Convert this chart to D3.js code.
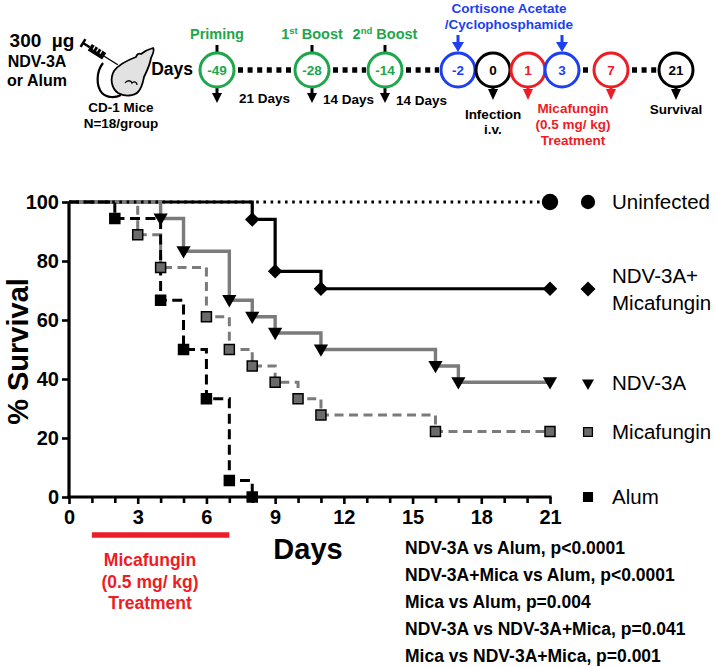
<!DOCTYPE html>
<html>
<head>
<meta charset="utf-8">
<script src="https://cdn.jsdelivr.net/npm/d3@7"></script>
<style>
  body { margin: 0; background: #fff; }
  svg text { font-family: "Liberation Sans", Arial, sans-serif; }
</style>
</head>
<body>
<div id="container"></div>
<script>
const width = 716
const height = 667

// Kaplan-Meier curves, % survival
const uninfDays = [0, 21]
const uninfSurv = [100, 100]
const ndvMicaDays = [0, 8, 9, 11, 21]
const ndvMicaSurv = [100, 94.1, 76.5, 70.6, 70.6]
const ndvDays = [0, 4, 5, 7, 8, 9, 11, 16, 17, 21]
const ndvSurv = [100, 94.4, 83.3, 66.7, 61.1, 55.6, 50, 44.4, 38.9, 38.9]
const micaDays = [0, 3, 4, 6, 7, 8, 9, 10, 11, 16, 21]
const micaSurv = [100, 88.9, 77.8, 61.1, 50, 44.4, 38.9, 33.3, 27.8, 22.2, 22.2]
const alumDays = [0, 2, 4, 5, 6, 7, 8]
const alumSurv = [100, 94.4, 66.7, 50, 33.3, 5.6, 0]

const xTicks = [0, 3, 6, 9, 12, 15, 18, 21]
const yTicks = [0, 20, 40, 60, 80, 100]
const treatmentDays = [1, 7]
const treatmentLabel = ['Micafungin', '(0.5 mg/ kg)', 'Treatment']
const pValues = [
  'NDV-3A vs Alum, p<0.0001',
  'NDV-3A+Mica vs Alum, p<0.0001',
  'Mica vs Alum, p=0.004',
  'NDV-3A vs NDV-3A+Mica, p=0.041',
  'Mica vs NDV-3A+Mica, p=0.001'
]

// study timeline (schematic on top)
const tlDays = [-49, -28, -14, -2, 0, 1, 3, 7, 21]
const tlKinds = ['vac', 'vac', 'vac', 'immuno', 'infect', 'drug', 'immuno', 'drug', 'end']
const vacLabels = [['1', '', ' Priming'], ['1', 'st', ' Boost'], ['2', 'nd', ' Boost']]
const gapLabels = ['21 Days', '14 Days', '14 Days']
const dottedGaps = [[-49, -28], [-28, -14], [-14, -2], [3, 7], [7, 21]]

const col = {
  green: '#1ea64b',
  blue: '#1d3ff0',
  red: '#ee1c24',
  gray: '#7b7b7b',
  black: '#000'
}
const kindColor = { vac: col.green, immuno: col.blue, infect: col.black, drug: col.red, end: col.black }

let svg = d3.select('#container')
  .append('svg')
  .attr('xmlns', 'http://www.w3.org/2000/svg')
  .attr('width', width)
  .attr('height', height)

// ---------- timeline ----------
// piecewise scale, the schematic is not to scale
const tl = d3.scaleLinear()
  .domain(tlDays)
  .range([217, 312, 385, 458, 493, 528, 562, 611, 676])
const tlY = 70
const r = 17
let tlG = svg.append('g')

function arrowDown(g, cx, y0, y1, color, hw, hh) {
  g.append('line')
    .attr('x1', cx).attr('x2', cx)
    .attr('y1', y0).attr('y2', y1 - hh + 1)
    .attr('stroke', color).attr('stroke-width', 3)
  g.append('path')
    .attr('d', `M${cx - hw / 2},${y1 - hh}L${cx + hw / 2},${y1 - hh}L${cx},${y1}Z`)
    .attr('fill', color)
}

dottedGaps.forEach(([a, b]) => {
  tlG.append('line')
    .attr('x1', tl(a) + r + 4).attr('x2', tl(b) - r - 2)
    .attr('y1', tlY).attr('y2', tlY)
    .attr('stroke', '#000')
    .attr('stroke-width', 5.5)
    .attr('stroke-dasharray', '5,4.6')
})

tlDays.forEach((d, i) => {
  let kind = tlKinds[i]
  let c = kindColor[kind]
  let cx = tl(d)
  if (kind === 'vac') {
    tlG.append('line').attr('x1', cx).attr('x2', cx).attr('y1', 45).attr('y2', tlY - r)
      .attr('stroke', '#000').attr('stroke-width', 3)
    arrowDown(tlG, cx, tlY + r, 103, '#000', 10, 10)
  } else if (kind === 'immuno') {
    arrowDown(tlG, cx, 35, tlY - r - 1, col.blue, 12, 10)
  } else {
    arrowDown(tlG, cx, tlY + r, 100, c, 10, 11)
  }
  tlG.append('circle')
    .attr('cx', cx).attr('cy', tlY).attr('r', r)
    .attr('fill', '#fff')
    .attr('stroke', c)
    .attr('stroke-width', 3)
  tlG.append('text')
    .attr('x', cx).attr('y', tlY + 5)
    .attr('text-anchor', 'middle')
    .attr('font-size', 13.5).attr('font-weight', 'bold')
    .attr('fill', c)
    .text(d)
})

vacLabels.forEach((lab, i) => {
  let t = tlG.append('text')
    .attr('x', tl(tlDays[i])).attr('y', 39)
    .attr('text-anchor', 'middle')
    .attr('font-size', 14.5).attr('font-weight', 'bold')
    .attr('fill', col.green)
  if (lab[1] === '') {
    t.text(lab[2].trim())
  } else {
    t.append('tspan').text(lab[0])
    t.append('tspan').attr('dy', -5).attr('font-size', 9.5).text(lab[1])
    t.append('tspan').attr('dy', 5).text(lab[2])
  }
})

gapLabels.forEach((lab, i) => {
  let mid = (tl(tlDays[i]) + tl(tlDays[i + 1])) / 2
  tlG.append('text')
    .attr('x', mid).attr('y', 103 + i)
    .attr('text-anchor', 'middle')
    .attr('font-size', 13.5).attr('font-weight', 'bold')
    .text(lab)
})

function lines(g, xc, y0, dy, arr, opts) {
  arr.forEach((s, i) => {
    g.append('text')
      .attr('x', xc).attr('y', y0 + i * dy)
      .attr('text-anchor', opts.anchor || 'middle')
      .attr('font-size', opts.size)
      .attr('font-weight', opts.weight || 'bold')
      .attr('fill', opts.color || '#000')
      .style('white-space', 'pre')
      .text(s)
  })
}

lines(tlG, 509, 13, 16, ['Cortisone Acetate', '/Cyclophosphamide'], { size: 13.5, color: col.blue })
lines(tlG, tl(0), 119, 15, ['Infection', 'i.v.'], { size: 13.5 })
lines(tlG, 573, 113, 16, treatmentLabel, { size: 13.5, color: col.red })
lines(tlG, tl(21), 114, 15, ['Survival'], { size: 13.5 })
lines(tlG, 193, 75, 0, ['Days'], { size: 17.5, anchor: 'end' })
lines(tlG, 42, 47, 0, ['300  \u00b5g'], { size: 19 })
lines(tlG, 37, 67, 19, ['NDV-3A', 'or Alum'], { size: 16 })
lines(tlG, 121, 112, 16, ['CD-1 Mice', 'N=18/group'], { size: 13.5 })

// mouse + syringe icon
let icon = tlG.append('g')
icon.append('path')
  .attr('d', 'M103,63 C96,72 96,86 102,93 C107,98 115,98 121,95')
  .attr('fill', 'none').attr('stroke', '#000').attr('stroke-width', 2.2)
icon.append('path')
  .attr('d', 'M153,48 C149,49 145,51 141,54 C139,53 137,54 136,57 C128,60 119,64 114,71 C110,78 111,88 118,93 C125,97 134,96 138,92 C142,88 143,82 144,77 C147,71 150,64 151,58 C153,54 155,50 153,48 Z')
  .attr('fill', '#e2e2e2').attr('stroke', '#000').attr('stroke-width', 1.8)
icon.append('path')
  .attr('d', 'M125,83 C127,80 131,80 132,83 C134,81 137,82 137,85')
  .attr('fill', 'none').attr('stroke', '#000').attr('stroke-width', 1.3)
let syr = icon.append('g').attr('transform', 'translate(83,43) rotate(32)')
syr.append('line').attr('x1', 0).attr('x2', 0).attr('y1', -4.5).attr('y2', 4.5)
  .attr('stroke', '#000').attr('stroke-width', 2.5)
syr.append('line').attr('x1', 0).attr('x2', 8).attr('y1', 0).attr('y2', 0)
  .attr('stroke', '#000').attr('stroke-width', 2.5)
syr.append('rect').attr('x', 8).attr('y', -3.8).attr('width', 17).attr('height', 7.6)
  .attr('fill', '#000')
d3.range(3).forEach(k => {
  syr.append('line').attr('x1', 12 + k * 4).attr('x2', 12 + k * 4).attr('y1', -3.8).attr('y2', 0)
    .attr('stroke', '#fff').attr('stroke-width', 1.2)
})
syr.append('line').attr('x1', 25).attr('x2', 41).attr('y1', 0).attr('y2', 0)
  .attr('stroke', '#000').attr('stroke-width', 1.4)

// ---------- survival chart ----------
const x = d3.scaleLinear().domain([0, 21]).range([69, 550])
const y = d3.scaleLinear().domain([0, 100]).range([497, 202])

let chart = svg.append('g')

let yAxis = chart.append('g')
  .attr('transform', `translate(${x(0)},0)`)
  .call(d3.axisLeft(y).tickValues(yTicks).tickSize(7).tickSizeOuter(0).tickPadding(3))
let xMinor = chart.append('g')
  .attr('transform', `translate(0,${y(0)})`)
  .call(d3.axisBottom(x).tickValues(d3.range(0, 22).filter(d => d % 3 !== 0))
    .tickSize(6).tickSizeOuter(0).tickFormat(''))
let xAxis = chart.append('g')
  .attr('transform', `translate(0,${y(0)})`)
  .call(d3.axisBottom(x).tickValues(xTicks).tickSize(7).tickSizeOuter(0).tickPadding(6))

;[yAxis, xAxis, xMinor].forEach(a => {
  a.select('.domain').attr('stroke-width', 3.2).attr('stroke', '#000')
  a.selectAll('.tick line').attr('stroke-width', 2.6).attr('stroke', '#000')
  a.selectAll('.tick text')
    .attr('font-size', 20).attr('font-weight', 'bold')
    .attr('font-family', '"Liberation Sans", Arial, sans-serif')
    .attr('fill', '#000')
})
// extend domain lines so the corner is square
yAxis.select('.domain').attr('d', `M0,${y(100)}V${y(0) + 1.6}`)
xAxis.select('.domain').attr('d', `M${x(0) - 1.6},0H${x(21) + 1.5}`)
xMinor.select('.domain').remove()

chart.append('text')
  .attr('transform', `translate(28,${(y(0) + y(100)) / 2 + 2}) rotate(-90)`)
  .attr('text-anchor', 'middle')
  .attr('font-size', 29).attr('font-weight', 'bold')
  .text('% Survival')

chart.append('text')
  .attr('x', 308).attr('y', 559)
  .attr('text-anchor', 'middle')
  .attr('font-size', 29).attr('font-weight', 'bold')
  .text('Days')

chart.append('line')
  .attr('x1', x(treatmentDays[0])).attr('x2', x(treatmentDays[1]))
  .attr('y1', 535).attr('y2', 535)
  .attr('stroke', col.red).attr('stroke-width', 5.5)
lines(chart, 150, 566, 21.5, treatmentLabel, { size: 17.5, color: col.red })
lines(chart, 405, 554, 27, pValues, { size: 17.5, anchor: 'start' })

const series = [
  { days: ndvMicaDays, surv: ndvMicaSurv, stroke: col.black, w: 3.2, dash: null,
    sym: 'diamond', fill: '#000', label: ['NDV-3A+', 'Micafungin'] },
  { days: ndvDays, surv: ndvSurv, stroke: col.gray, w: 3.4, dash: null,
    sym: 'triangle', fill: '#000', label: ['NDV-3A'] },
  { days: micaDays, surv: micaSurv, stroke: col.gray, w: 3, dash: '9,5.5',
    sym: 'square', fill: '#6b6b6b', label: ['Micafungin'] },
  { days: alumDays, surv: alumSurv, stroke: col.black, w: 3, dash: '10,5.5',
    sym: 'square', fill: '#000', label: ['Alum'] },
  { days: uninfDays, surv: uninfSurv, stroke: col.black, w: 3, dash: '2.6,4.6',
    sym: 'circle', fill: '#000', label: ['Uninfected'] }
]

const line = d3.line()
  .x(d => x(d[0]))
  .y(d => y(d[1]))
  .curve(d3.curveStepAfter)

function symbolPath(kind, size) {
  let t = { diamond: d3.symbolSquare, triangle: d3.symbolTriangle, square: d3.symbolSquare, circle: d3.symbolCircle }
  return d3.symbol().type(t[kind]).size(size)()
}
function symbolRot(kind) {
  return kind === 'diamond' ? 45 : kind === 'triangle' ? 180 : 0
}
const onCurveSize = { diamond: 105, triangle: 88, square: 100, circle: 210 }
const legendSize = { diamond: 112, triangle: 62, square: 78, circle: 160 }

series.forEach(s => {
  let pts = s.days.map((d, i) => [d, s.surv[i]])
  chart.append('path')
    .attr('d', line(pts))
    .attr('fill', 'none')
    .attr('stroke', s.stroke)
    .attr('stroke-width', s.w)
    .attr('stroke-dasharray', s.dash)
})

series.forEach(s => {
  let pts = s.days.map((d, i) => [d, s.surv[i]]).slice(1)
  chart.selectAll(null)
    .data(pts)
    .enter()
    .append('path')
    .attr('d', symbolPath(s.sym, onCurveSize[s.sym]))
    .attr('transform', d => `translate(${x(d[0])},${y(d[1]) + (s.sym === 'triangle' ? -1 : 0)}) rotate(${symbolRot(s.sym)})`)
    .attr('fill', s.fill)
    .attr('stroke', s.sym === 'square' ? '#000' : 'none')
    .attr('stroke-width', 1.5)
})

// legend
const legendY = { Uninfected: 202, 'NDV-3A+': 289, 'NDV-3A': 383, Micafungin: 432, Alum: 497 }
let legend = svg.append('g')
series.slice().reverse().forEach(s => {
  let ly = legendY[s.label[0]]
  legend.append('path')
    .attr('d', symbolPath(s.sym, legendSize[s.sym]))
    .attr('transform', `translate(588,${ly}) rotate(${symbolRot(s.sym)})`)
    .attr('fill', s.fill)
    .attr('stroke', s.sym === 'square' ? '#000' : 'none')
    .attr('stroke-width', 1.3)
  let n = s.label.length
  s.label.forEach((t, i) => {
    legend.append('text')
      .attr('x', 612)
      .attr('y', ly + 7 + (i - (n - 1) / 2) * 27)
      .attr('font-size', 20.5)
      .text(t)
  })
})
</script>
</body>
</html>
